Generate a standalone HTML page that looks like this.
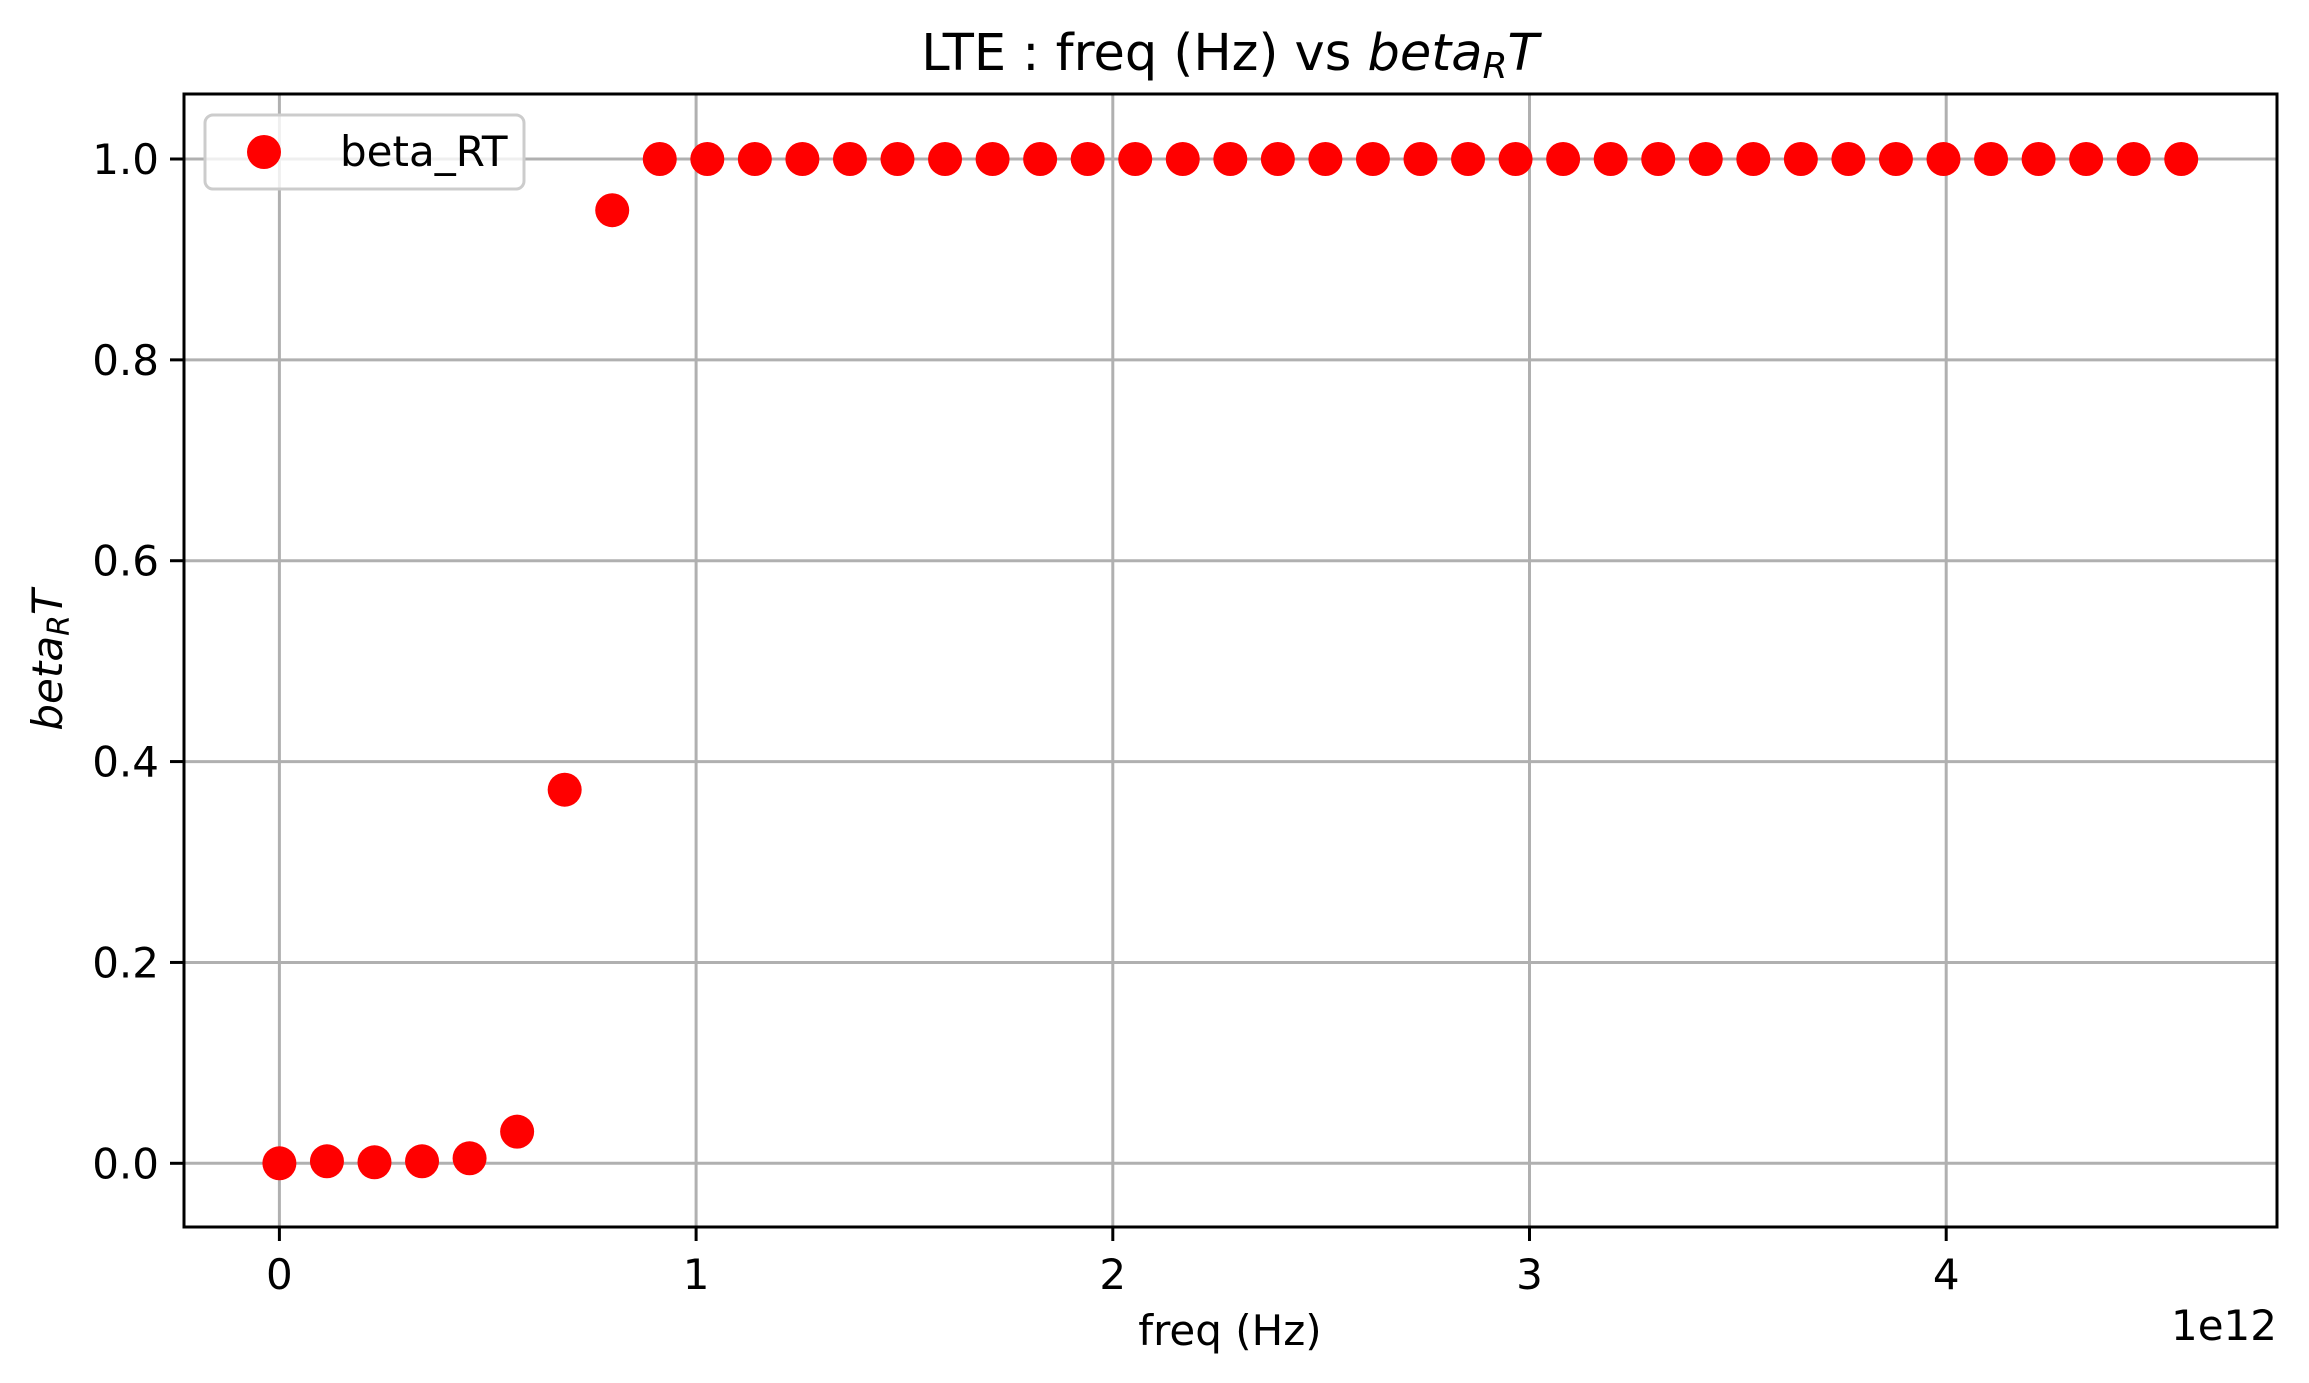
<!DOCTYPE html>
<html><head><meta charset="utf-8"><style>
html,body{margin:0;padding:0;background:#fff;}
svg{display:block;font-family:"DejaVu Sans","Liberation Sans",sans-serif;}
</style></head><body>
<svg id="chart" width="2309" height="1383" viewBox="0 0 2309 1383" xmlns="http://www.w3.org/2000/svg">
<rect width="2309" height="1383" fill="#fff"/>
<g id="grid"></g>
<g id="points"></g>
<rect x="184" y="94" width="2093" height="1133" fill="none" stroke="#000" stroke-width="3"/>
<g id="ticks"></g>
<text x="1230" y="70" font-size="51" text-anchor="middle">LTE : freq (Hz) vs <tspan font-style="italic">beta</tspan><tspan font-style="italic" font-size="36" dy="8">R</tspan><tspan font-style="italic" dy="-8">T</tspan></text>
<text x="1230" y="1345" font-size="42" text-anchor="middle">freq (Hz)</text>
<text x="2277" y="1340" font-size="42" text-anchor="end">1e12</text>
<text transform="translate(62,660) rotate(-90)" font-size="42" text-anchor="middle"><tspan font-style="italic">beta</tspan><tspan font-style="italic" font-size="30" dy="7">R</tspan><tspan font-style="italic" dy="-7">T</tspan></text>
<g>
<rect x="205" y="115" width="319" height="74" rx="8" fill="#fff" fill-opacity="0.8" stroke="#cccccc" stroke-width="3"/>
<circle cx="264" cy="152" r="17" fill="#ff0000"/>
<text x="340" y="166" font-size="42">beta_RT</text>
</g>
</svg>
<script>
const xValues = [];
const N = 41;
const step = 0.1141;
for (let i = 0; i < N; i++) xValues.push(+(i * step).toFixed(4));
const yValues = [0, 0.002, 0.001, 0.002, 0.005, 0.0315, 0.372, 0.949,
  1,1,1,1,1,1,1,1,1,1,1,1,1,1,1,1,1,1,1,1,1,1,1,1,1,1,1,1,1,1,1,1,1];
const xTicks = [0, 1, 2, 3, 4];
const xTickLabels = ["0", "1", "2", "3", "4"];
const yTicks = [0, 0.2, 0.4, 0.6, 0.8, 1.0];
const yTickLabels = ["0.0", "0.2", "0.4", "0.6", "0.8", "1.0"];

const NS = "http://www.w3.org/2000/svg";
const L = 184, R = 2277, T = 94, B = 1227;
const sx = v => 279.4 + v * 416.7;
const sy = v => 1163.3 - v * 1004.3;
function mk(tag, attrs, parent) {
  const e = document.createElementNS(NS, tag);
  for (const k in attrs) e.setAttribute(k, attrs[k]);
  parent.appendChild(e);
  return e;
}
const grid = document.getElementById('grid');
const ticks = document.getElementById('ticks');
const pts = document.getElementById('points');
xTicks.forEach((t, i) => {
  const x = sx(t);
  const g = mk('line', {x1:x, x2:x, y1:T, y2:B, stroke:'#b0b0b0', 'stroke-width':3}, grid);
  
  
  const tk = mk('line', {x1:x, x2:x, y1:B, y2:B+14, stroke:'#000', 'stroke-width':3}, ticks);
  
  
  const lb = mk('text', {x:x, y:1289, 'font-size':42, 'text-anchor':'middle'}, ticks);
  lb.textContent = xTickLabels[i];
  
  
});
yTicks.forEach((t, i) => {
  const y = sy(t);
  const g = mk('line', {x1:L, x2:R, y1:y, y2:y, stroke:'#b0b0b0', 'stroke-width':3}, grid);
  
  
  const tk = mk('line', {x1:L-14, x2:L, y1:y, y2:y, stroke:'#000', 'stroke-width':3}, ticks);
  
  
  const lb = mk('text', {x:159, y:y+15, 'font-size':42, 'text-anchor':'end'}, ticks);
  lb.textContent = yTickLabels[i];
  
  
});
xValues.forEach((xv, i) => {
  const c = mk('circle', {cx:sx(xv), cy:sy(yValues[i]), r:17, fill:'#ff0000'}, pts);
  
  
});
</script>
</body></html>
